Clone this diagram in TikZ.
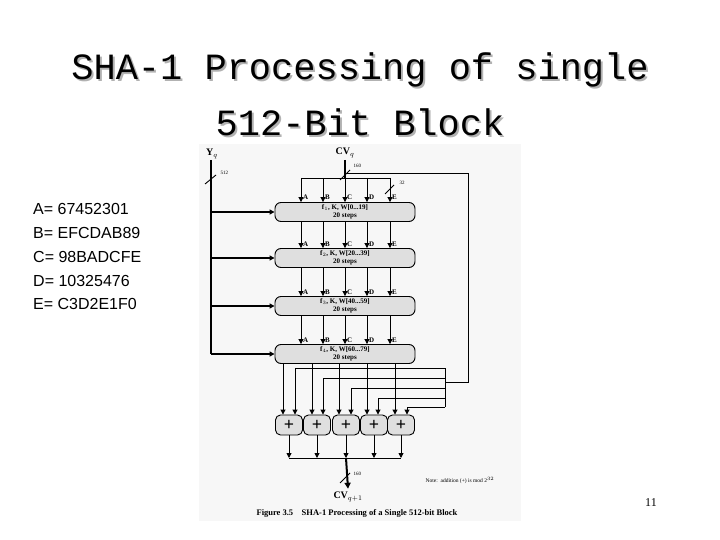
\documentclass[tikz,border=0pt]{standalone}
\usepackage{fontspec}
\setmainfont{Liberation Serif}
\newfontfamily\monof{Liberation Mono}
\newfontfamily\sansf{Liberation Sans}
\usetikzlibrary{arrows.meta}
\begin{document}
\begin{tikzpicture}[x=1pt,y=-1pt,
  ln/.style={line width=0.9pt},
  thk/.style={line width=2pt},
  tip/.style={-{Triangle[length=5pt,width=5pt]}},
  rbox/.style={draw,line width=0.9pt,fill=gray!25,rounded corners=6pt,minimum width=140pt,minimum height=19pt,inner sep=0pt,font=\bfseries\fontsize{7}{7.5}\selectfont,align=center},
  abox/.style={draw,line width=0.9pt,fill=gray!25,rounded corners=5pt,minimum width=27pt,minimum height=20pt,inner sep=0pt,font=\bfseries\fontsize{18}{18}\selectfont},
  lbl/.style={font=\bfseries\fontsize{7}{7}\selectfont,inner sep=1pt},
  side/.style={font=\sansf\fontsize{16}{18}\selectfont,anchor=west,inner sep=0pt}]
\useasboundingbox (0,0) rectangle (720,540);
\fill[gray!6] (199,144) rectangle (521,521);
% title
\node[font=\monof\fontsize{37}{37}\selectfont,text=gray!60] (t1s) at (362,72) {SHA-1 Processing of single};
\node[font=\monof\fontsize{37}{37}\selectfont] (t1) at (360,70) {SHA-1 Processing of single};
\node[font=\monof\fontsize{37}{37}\selectfont,text=gray!60] (t2s) at (362,124) {512-Bit Block};
\node[font=\monof\fontsize{37}{37}\selectfont] (t2) at (360,122) {512-Bit Block};
\node[side] (a) at (33,209) {A= 67452301};
\node[side] (b) at (33,233) {B= EFCDAB89};
\node[side] (c) at (33,257) {C= 98BADCFE};
\node[side] (d) at (33,281) {D= 10325476};
\node[side] (e) at (33,304) {E= C3D2E1F0};
\node[font=\fontsize{12}{12}\selectfont] (pg) at (651,503) {11};
% labels
\node[font=\bfseries\fontsize{10}{10}\selectfont] (yq) at (212,154) {Y$_q$};
\node[font=\bfseries\fontsize{10}{10}\selectfont] (cvq) at (345,153) {CV$_q$};
% boxes
\node[rbox] (b1) at (345,212) {f$_1$, K, W[0...19]\\20 steps};
\node[rbox] (b2) at (345,258) {f$_2$, K, W[20...39]\\20 steps};
\node[rbox] (b3) at (345,306) {f$_3$, K, W[40...59]\\20 steps};
\node[rbox] (b4) at (345,354) {f$_4$, K, W[60...79]\\20 steps};
% Yq line
\coordinate (y0) at (211,160); \coordinate (y4) at (211,354);
\draw[thk] (y0) -- (y4);
\foreach \b in {b1,b2,b3,b4}{\draw[thk,tip] (211,0 |- \b.west) -- (\b.west);}
\draw[ln] (205,184) -- (216,175); \node[font=\fontsize{5}{5}\selectfont,anchor=west] (n512) at (217,173) {512};
% CVq distribution
\coordinate (cv0) at (345,160); \coordinate (cv1) at (345,178);
\draw[thk] (cv0) -- (cv1);
\draw[ln] (340,180) -- (350,170); \node[font=\fontsize{5}{5}\selectfont,anchor=west] (n160) at (350,166) {160};
\draw[ln] (301,178) -- (390,178);
\draw[ln] (385,194) -- (394,185); \node[font=\fontsize{5}{5}\selectfont,anchor=west] (n32) at (396,183) {32};
\foreach \x/\l in {301/A,323/B,345/C,367/D,390/E}{
  \draw[ln,tip] (\x,178) -- (\x,0 |- b1.north);
  \node[lbl,anchor=west] at (\x+1,197) {\l};
  \draw[ln,tip] (\x,0 |- b1.south) -- (\x,0 |- b2.north);
  \node[lbl,anchor=west] at (\x+1,244) {\l};
  \draw[ln,tip] (\x,0 |- b2.south) -- (\x,0 |- b3.north);
  \node[lbl,anchor=west] at (\x+1,292) {\l};
  \draw[ln,tip] (\x,0 |- b3.south) -- (\x,0 |- b4.north);
  \node[lbl,anchor=west] at (\x+1,340) {\l};
}
% feedback
\draw[ln] (345,173) -- (468,173) -- (468,382) -- (445,382);
\draw[ln] (445,368) -- (445,407);
% adders
\foreach \i/\x/\p/\q in {1/289/283/295,2/317/312/323,3/346/339/351,4/374/367/378,5/401/395/407}{
  \node[abox] (ad\i) at (\x,425) {+};
  \draw[ln,tip] (\p,0 |- b4.south) -- (\p,0 |- ad\i.north);
  \draw[ln,tip] (\x,0 |- ad\i.south) -- (\x,458);
}
\draw[ln,tip] (445,368) -- (295,368) -- (295,0 |- ad1.north);
\draw[ln,tip] (445,378) -- (323,378) -- (323,0 |- ad2.north);
\draw[ln,tip] (445,388) -- (351,388) -- (351,0 |- ad3.north);
\draw[ln,tip] (445,398) -- (378,398) -- (378,0 |- ad4.north);
\draw[ln,tip] (445,407) -- (407,407) -- (407,0 |- ad5.north);
\draw[ln] (289,458) -- (401,458);
\node[font=\bfseries\fontsize{10}{10}\selectfont] (cvo) at (348,497) {CV$_{q+1}$};
\draw[thk,-{Triangle[length=6pt,width=6pt]}] (346,458) -- (cvo.north);
\draw[ln] (340,483) -- (350,473); \node[font=\fontsize{5}{5}\selectfont,anchor=west] (n160b) at (350,474) {160};
\node[font=\fontsize{5.5}{5.5}\selectfont] (note) at (460,480) {Note:\ \ addition (+) is mod 2$^{32}$};
\node[font=\bfseries\fontsize{8.5}{8.5}\selectfont] (cap) at (357,513) {Figure 3.5\quad SHA-1 Processing of a Single 512-bit Block};
\end{tikzpicture}
\end{document}
